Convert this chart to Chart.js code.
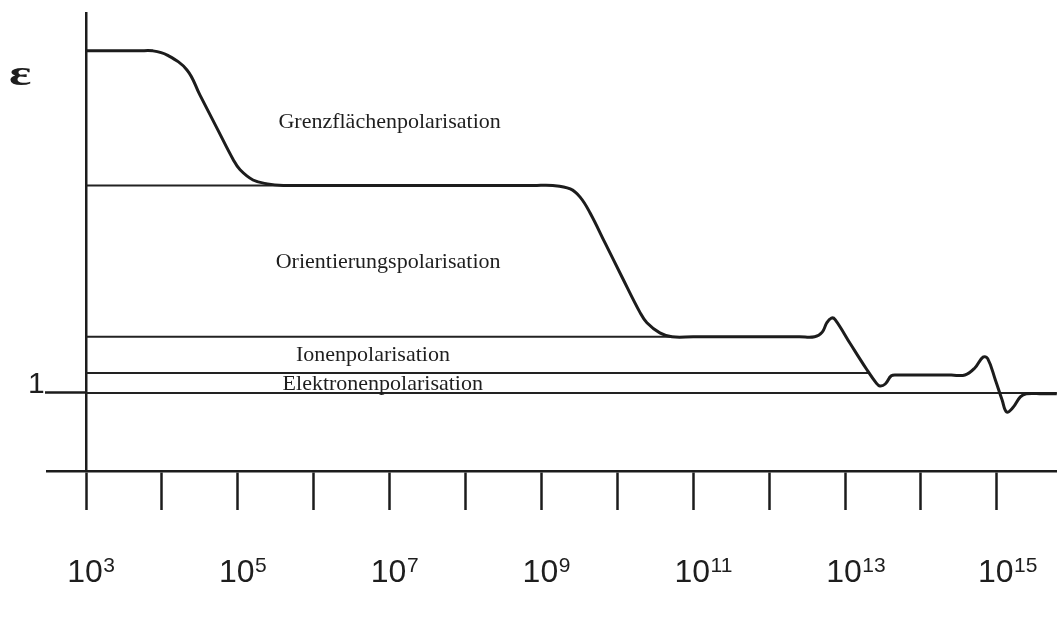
<!DOCTYPE html>
<html lang="de">
<head>
<meta charset="utf-8">
<title>Dielektrizitätskonstante und Frequenz</title>
<script src="https://cdn.jsdelivr.net/npm/chart.js@4.4.1/dist/chart.umd.min.js"></script>
<style>
  html, body { margin: 0; padding: 0; background: #ffffff; }
  canvas { display: block; }
</style>
</head>
<body>
<canvas id="chart" width="1057" height="624"></canvas>
<script>
// Frequency given as powers of ten (log10 of f in Hz), permittivity in relative units (1 = vacuum).
const curveLogF = [3.0, 3.7, 3.88, 4.07, 4.33, 4.50, 4.73, 4.94, 5.03, 5.20, 5.39, 5.60, 5.9,
                   8.9, 9.15, 9.38, 9.51, 9.64, 9.84, 10.06, 10.30, 10.39, 10.56, 10.72, 11.0,
                   12.4, 12.60, 12.70, 12.76, 12.82, 12.87, 13.07, 13.28, 13.41, 13.46, 13.53, 13.61, 13.69, 13.9,
                   14.4, 14.58, 14.71, 14.82, 14.88, 14.98, 15.07, 15.13, 15.21, 15.31, 15.39, 15.6, 15.79];
const curveEps  = [5.385, 5.385, 5.385, 5.33, 5.14, 4.82, 4.385, 3.99, 3.86, 3.73, 3.68, 3.66, 3.66,
                   3.66, 3.66, 3.615, 3.51, 3.31, 2.92, 2.49, 2.03, 1.90, 1.77, 1.72, 1.72,
                   1.72, 1.72, 1.78, 1.90, 1.96, 1.94, 1.63, 1.31, 1.13, 1.09, 1.115, 1.22, 1.23, 1.23,
                   1.23, 1.23, 1.32, 1.46, 1.44, 1.17, 0.91, 0.756, 0.81, 0.95, 0.99, 0.99, 0.99];

// Contribution levels of the polarisation mechanisms
const levelNames = ['Grenzflächenpolarisation', 'Orientierungspolarisation', 'Ionenpolarisation', 'Elektronenpolarisation'];
const levelEps   = [3.66, 1.72, 1.255, 1.0];
const levelEndLogF = [5.60, 10.72, 13.31, 15.79];
// Label anchor points for each mechanism (centre, baseline)
const labelLogF = [7.0, 6.98, 6.78, 6.91];
const labelEps  = [4.40, 2.60, 1.41, 1.04];

// Axis ticks
const decadeExponents = [3, 4, 5, 6, 7, 8, 9, 10, 11, 12, 13, 14, 15];
const labelledExponents = ['3', '5', '7', '9', '11', '13', '15'];
const epsTicks = [1];
const epsTickLabels = ['1'];

const LOGF_MIN = 2.486, LOGF_MAX = 15.793;
const EPS_MIN = 0, EPS_MAX = 5.87;

const INK = '#1c1c1c';
const SERIF = '"Liberation Serif", "Times New Roman", serif';
const SANS = '"Liberation Sans", Arial, sans-serif';

const toPoints = (logs, vals) => logs.map((l, i) => ({ x: Math.pow(10, l), y: vals[i] }));

const datasets = [{
  label: 'ε',
  data: toPoints(curveLogF, curveEps),
  borderColor: INK,
  borderWidth: 3,
  pointRadius: 0,
  tension: 0.4,
  order: 0
}];
levelEps.forEach((v, i) => {
  datasets.push({
    label: levelNames[i],
    data: toPoints([3, levelEndLogF[i]], [v, v]),
    borderColor: '#222222',
    borderWidth: 2,
    pointRadius: 0,
    tension: 0,
    order: 1
  });
});

const textPlugin = {
  id: 'diagramText',
  afterDraw(chart) {
    const { ctx } = chart;
    const xs = chart.scales.x, ys = chart.scales.y;
    ctx.save();
    ctx.fillStyle = '#1e1e1e';

    // mechanism labels
    ctx.font = '22px ' + SERIF;
    ctx.textAlign = 'center';
    ctx.textBaseline = 'alphabetic';
    levelNames.forEach((name, i) => {
      ctx.fillText(name, xs.getPixelForValue(Math.pow(10, labelLogF[i])), ys.getPixelForValue(labelEps[i]));
    });

    // decade labels with superscript exponents
    labelledExponents.forEach(e => {
      const px = xs.getPixelForValue(Math.pow(10, Number(e))) - 1;
      const base = xs.bottom + 72;
      ctx.font = '32px ' + SANS;
      ctx.textAlign = 'center';
      ctx.fillText('10', px, base);
      const half = ctx.measureText('10').width / 2;
      ctx.font = '21px ' + SANS;
      ctx.textAlign = 'left';
      ctx.fillText(e, px + half + 0.5, base - 10);
    });

    // y tick label
    const yAxisX = xs.getPixelForValue(1e3);
    ctx.font = '30px ' + SANS;
    ctx.textAlign = 'left';
    epsTicks.forEach((v, i) => {
      ctx.fillText(epsTickLabels[i], yAxisX - 58, ys.getPixelForValue(v));
    });

    // axis titles
    ctx.save();
    ctx.translate(9, 85);
    ctx.scale(1.45, 1);
    ctx.font = 'bold 36px ' + SERIF;
    ctx.textAlign = 'left';
    ctx.fillText('ε', 0, 0);
    ctx.restore();

    ctx.font = '22px ' + SERIF;
    ctx.textAlign = 'right';
    ctx.fillText('Frequenz in Hz', xs.right - 39, xs.bottom + 147);
    ctx.restore();
  }
};

new Chart(document.getElementById('chart'), {
  type: 'line',
  data: { datasets },
  options: {
    responsive: false,
    animation: false,
    devicePixelRatio: 1,
    layout: { padding: { left: 47, right: 0, top: 13, bottom: 114 } },
    plugins: { legend: { display: false }, tooltip: { enabled: false } },
    scales: {
      x: {
        type: 'logarithmic',
        position: 'bottom',
        min: Math.pow(10, LOGF_MIN),
        max: Math.pow(10, LOGF_MAX),
        border: { display: true, color: INK, width: 2.5 },
        grid: { display: true, drawOnChartArea: false, drawTicks: true, tickLength: 39, tickColor: INK, tickWidth: 2.5 },
        ticks: { display: false },
        afterBuildTicks(scale) { scale.ticks = decadeExponents.map(e => ({ value: Math.pow(10, e) })); }
      },
      y: {
        type: 'linear',
        position: { x: 1e3 },
        min: EPS_MIN,
        max: EPS_MAX,
        border: { display: true, color: INK, width: 2.5 },
        grid: { display: true, drawOnChartArea: false, drawTicks: true, tickLength: 40, tickColor: INK, tickWidth: 2.5 },
        ticks: { display: false },
        afterBuildTicks(scale) { scale.ticks = epsTicks.map(v => ({ value: v })); }
      }
    }
  },
  plugins: [textPlugin]
});
</script>
</body>
</html>
